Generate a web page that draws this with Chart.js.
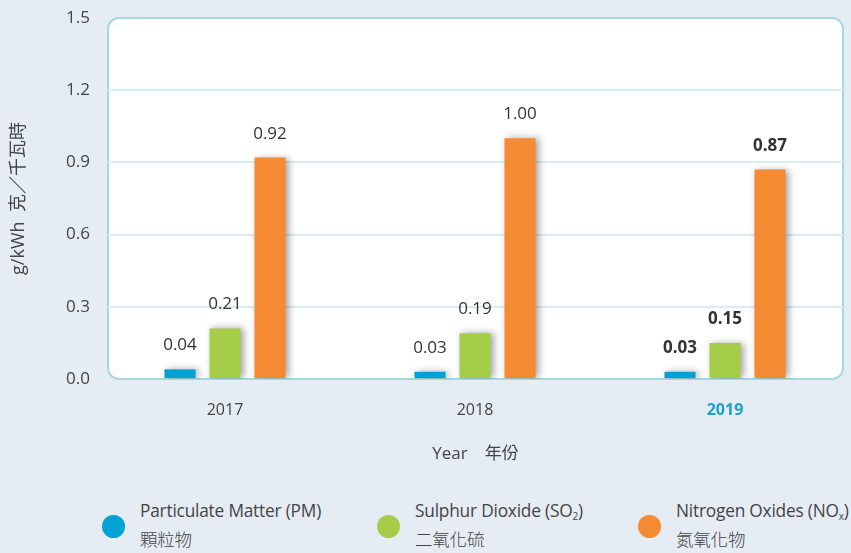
<!DOCTYPE html>
<html>
<head>
<meta charset="utf-8">
<script src="https://cdn.jsdelivr.net/npm/chart.js@4"></script>
<style>
  html, body { margin: 0; padding: 0; background: #e5ecf4; }
  body { width: 851px; height: 553px; position: relative; overflow: hidden;
         font-family: "Open Sans", "Noto Sans CJK TC", sans-serif; color: #444; }
  #wrap { position: absolute; left: 0; top: 0; width: 851px; height: 470px; }
  .leg { position: absolute; top: 497px; font-size: 17.3px; line-height: 28px; letter-spacing: -0.2px; }
  .leg .cjk { font-size: 17.5px; font-family: "Noto Sans CJK TC", sans-serif; font-weight: 300; }
  .leg .dot { position: absolute; left: -38px; top: 18px; width: 23px; height: 23px; border-radius: 50%; }
  .leg sub { font-size: 10px; vertical-align: -3px; line-height: 0; }
</style>
</head>
<body>
<div id="wrap"><canvas id="c"></canvas></div>
<div class="leg" style="left:140px"><span class="dot" style="background:#00a2d3"></span>Particulate Matter (PM)<br><span class="cjk">顆粒物</span></div>
<div class="leg" style="left:415px"><span class="dot" style="background:#a6cd48"></span>Sulphur Dioxide (SO<sub>2</sub>)<br><span class="cjk">二氧化硫</span></div>
<div class="leg" style="left:676px"><span class="dot" style="background:#f48b32"></span>Nitrogen Oxides (NO<sub>x</sub>)<br><span class="cjk">氮氧化物</span></div>
<script>
// 排放數據 g/kWh
const years = ['2017', '2018', '2019'];
const pm    = [0.04, 0.03, 0.03];
const so2   = [0.21, 0.19, 0.15];
const nox   = [0.92, 1.00, 0.87];
const yTicks = [0, 0.3, 0.6, 0.9, 1.2, 1.5];

const FONT = '"Open Sans", "Noto Sans CJK TC", sans-serif';
const TXT  = '#444';
const lastIdx = years.length - 1;

// 圓角白色繪圖區
const panelBg = {
  id: 'panelBg',
  beforeDraw(chart) {
    const { ctx, chartArea: a } = chart;
    ctx.save();
    ctx.beginPath();
    ctx.roundRect(a.left, a.top, a.right - a.left, a.bottom - a.top, 11);
    ctx.fillStyle = '#ffffff';
    ctx.fill();
    ctx.lineWidth = 2;
    ctx.strokeStyle = '#a5dadd';
    ctx.stroke();
    ctx.restore();
  }
};

// 柱子陰影
const barShadow = {
  id: 'barShadow',
  beforeDatasetsDraw(chart) {
    const ctx = chart.ctx;
    ctx.save();
    ctx.shadowColor = 'rgba(0,0,0,0.35)';
    ctx.shadowBlur = 7;
    ctx.shadowOffsetX = 3;
    ctx.shadowOffsetY = 0;
  },
  afterDatasetsDraw(chart) {
    chart.ctx.restore();
  }
};

// 數值標籤
const valueLabels = {
  id: 'valueLabels',
  afterDatasetsDraw(chart) {
    const ctx = chart.ctx;
    ctx.save();
    ctx.textAlign = 'center';
    ctx.textBaseline = 'alphabetic';
    ctx.fillStyle = '#333';
    chart.data.datasets.forEach((ds, di) => {
      chart.getDatasetMeta(di).data.forEach((bar, i) => {
        ctx.font = (i === lastIdx ? 'bold 17px ' : '17px ') + FONT;
        ctx.fillText(ds.data[i].y.toFixed(2), bar.x, bar.y - 19);
      });
    });
    ctx.restore();
  }
};

const mkSet = (label, vals, color) => ({
  label,
  data: vals.map((v, i) => ({ x: i, y: v })),
  backgroundColor: color,
  borderWidth: 0,
  barPercentage: 0.69,
  categoryPercentage: 0.54
});

new Chart(document.getElementById('c'), {
  type: 'bar',
  data: {
    datasets: [
      mkSet('Particulate Matter (PM)', pm, '#00a2d3'),
      mkSet('Sulphur Dioxide (SO2)', so2, '#a6cd48'),
      mkSet('Nitrogen Oxides (NOx)', nox, '#f48b32')
    ]
  },
  options: {
    responsive: true,
    maintainAspectRatio: false,
    animation: false,
    layout: { padding: { top: 18, right: 8, left: 0, bottom: 0 } },
    plugins: {
      legend: { display: false },
      tooltip: { enabled: false }
    },
    scales: {
      x: {
        type: 'linear',
        offset: false,
        min: -0.468,
        max: 2.472,
        afterBuildTicks: (s) => { s.ticks = years.map((_, i) => ({ value: i })); },
        grid: { display: false },
        border: { display: false },
        ticks: {
          padding: 14,
          autoSkip: false,
          callback: (v) => years[v] ?? '',
          color: (c) => c.index === lastIdx ? '#1aa0cf' : TXT,
          font: (c) => ({ family: FONT, size: 16, weight: c.index === lastIdx ? 'bold' : 'normal' })
        },
        title: {
          display: true,
          text: 'Year　年份',
          color: TXT,
          font: { family: FONT, size: 17 },
          padding: { top: 16, bottom: 6 }
        },
        afterFit: (s) => { s.height = 91; s.paddingLeft = 0; s.paddingRight = 0; }
      },
      y: {
        min: 0,
        max: 1.5,
        afterBuildTicks: (s) => { s.ticks = yTicks.map(v => ({ value: v })); },
        grid: {
          drawTicks: false,
          lineWidth: 2,
          color: (c) => (c.tick.value === 0 || c.tick.value === 1.5) ? 'rgba(0,0,0,0)' : '#d8eff1'
        },
        border: { display: false },
        ticks: {
          padding: 18,
          color: TXT,
          font: { family: FONT, size: 17 },
          callback: (v) => Number(v).toFixed(1)
        },
        title: {
          display: true,
          text: 'g/kWh  克／千瓦時',
          color: TXT,
          font: { family: FONT, size: 18 },
          padding: { top: 8, bottom: 0 }
        },
        afterFit: (s) => { s.width = 108; s.paddingTop = 0; s.paddingBottom = 0; }
      }
    }
  },
  plugins: [panelBg, barShadow, valueLabels]
});
</script>
</body>
</html>
